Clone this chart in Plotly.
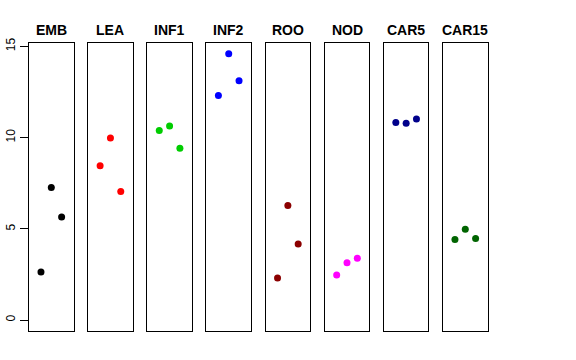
import plotly.graph_objects as go

tissues = ["EMB", "LEA", "INF1", "INF2", "ROO", "NOD", "CAR5", "CAR15"]
rep1 = [2.63, 8.46, 10.39, 12.30, 2.30, 2.47, 10.83, 4.42]
rep2 = [7.27, 9.98, 10.63, 14.60, 6.28, 3.14, 10.78, 4.97]
rep3 = [5.65, 7.05, 9.41, 13.12, 4.17, 3.38, 11.02, 4.47]
colors = ["#000000", "#FF0000", "#00CD00", "#0000FF", "#8B0000", "#FF00FF", "#00008B", "#006400"]
y_ticks = [0, 5, 10, 15]
positions = [1, 2, 3]

W, H = 576, 360
fig = go.Figure()

ymin = 0
ymax = max(rep1 + rep2 + rep3)
ext = 0.04 * (ymax - ymin)
yrange = [ymin - ext, ymax + ext]
xrange = [0 - 0.16, 4 + 0.16]

left0, step, width = 29.0, 59.14, 44.6
top_px, bot_px = 43.0, 330.7

for i, t in enumerate(tissues):
    xa = "x" if i == 0 else f"x{i+1}"
    ya = "y" if i == 0 else f"y{i+1}"
    l = left0 + i * step
    fig.add_trace(go.Scatter(
        x=positions, y=[rep1[i], rep2[i], rep3[i]],
        mode="markers", marker=dict(color=colors[i], size=7),
        xaxis=xa, yaxis=ya, showlegend=False, hoverinfo="skip"))
    xkey = "xaxis" if i == 0 else f"xaxis{i+1}"
    ykey = "yaxis" if i == 0 else f"yaxis{i+1}"
    fig.layout[xkey] = dict(domain=[l / W, (l + width) / W], range=xrange,
                            showline=True, mirror=True, linecolor="black", linewidth=1,
                            showgrid=False, zeroline=False, showticklabels=False,
                            ticks="", anchor=ya, fixedrange=True, automargin=False)
    ydict = dict(domain=[1 - bot_px / H, 1 - top_px / H], range=yrange,
                 showline=True, mirror=True, linecolor="black", linewidth=1,
                 showgrid=False, zeroline=False, anchor=xa, fixedrange=True,
                 automargin=False)
    if i == 0:
        ydict.update(tickmode="array", tickvals=y_ticks, ticktext=[str(v) for v in y_ticks],
                     ticks="outside", ticklen=8, tickcolor="black", tickwidth=1,
                     tickangle=-90, tickfont=dict(family="Liberation Sans", size=12, color="black"))
    else:
        ydict.update(showticklabels=False, ticks="")
    fig.layout[ykey] = ydict
    fig.add_annotation(text=f"<b>{t}</b>", x=(l + width / 2) / W, y=1 - 34 / H,
                       xref="paper", yref="paper", xanchor="center", yanchor="bottom",
                       showarrow=False, yshift=-6,
                       font=dict(family="Liberation Sans", size=14, color="black"))

fig.update_layout(width=W, height=H, margin=dict(l=0, r=0, t=0, b=0, autoexpand=False),
                  plot_bgcolor="white", paper_bgcolor="white")
fig.write_html("out.html", post_script="document.body.style.margin='0';",
               config={"displayModeBar": False, "staticPlot": True})
